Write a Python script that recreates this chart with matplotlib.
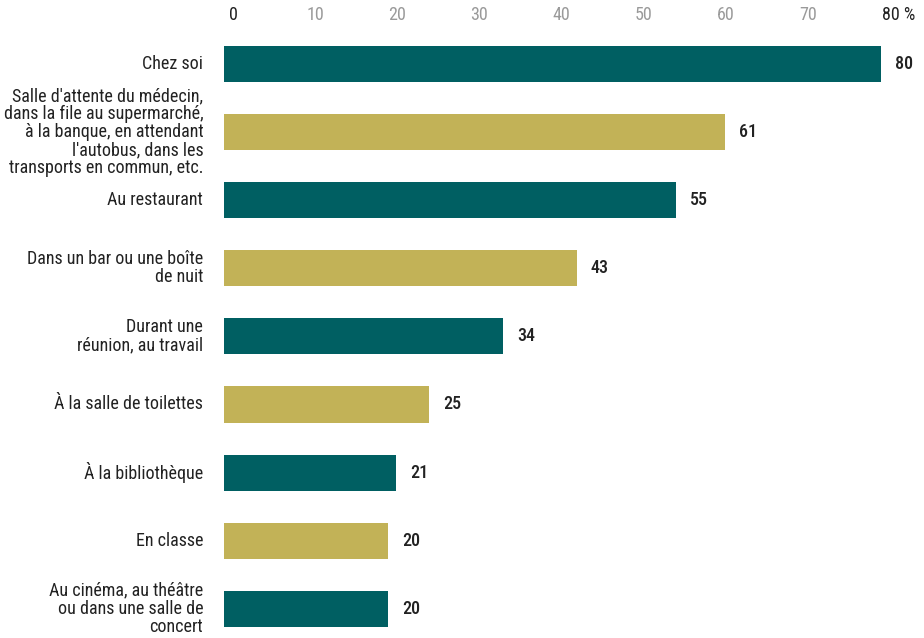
import matplotlib
matplotlib.use("Agg")
import matplotlib.pyplot as plt
import matplotlib.transforms as mtrans

plt.rcParams['font.family'] = ['Roboto Condensed', 'DejaVu Sans']

categories = [
    "Chez soi",
    "Salle d'attente du médecin,\ndans la file au supermarché,\nà la banque, en attendant\nl'autobus, dans les\ntransports en commun, etc.",
    "Au restaurant",
    "Dans un bar ou une boîte\nde nuit",
    "Durant une\nréunion, au travail",
    "À la salle de toilettes",
    "À la bibliothèque",
    "En classe",
    "Au cinéma, au théâtre\nou dans une salle de\nconcert",
]
values = [80, 61, 55, 43, 34, 25, 21, 20, 20]
tick_values = [0, 10, 20, 30, 40, 50, 60, 70, 80]
tick_labels = ["0", "10", "20", "30", "40", "50", "60", "70", "80 %"]

TEAL = "#005F62"
GOLD = "#C2B257"
colors = [TEAL if i % 2 == 0 else GOLD for i in range(len(values))]

fig = plt.figure(figsize=(9.24, 6.38), dpi=100)
ax = fig.add_axes([224 / 924, 0, 1 - 224 / 924, (638 - 30) / 638])

y = list(range(len(values)))
ax.barh(y, values, height=0.53, color=colors, edgecolor='none')
ax.set_xlim(0, 700 / 8.21)
ax.set_ylim(8.43, -0.5)

for s in ax.spines.values():
    s.set_visible(False)

ax.xaxis.tick_top()
ax.set_xticks(tick_values)
ax.set_xticklabels(tick_labels)
ax.tick_params(axis='x', length=0, pad=4, labelsize=13)
off_c = mtrans.ScaledTranslation(9 / 100, 0, fig.dpi_scale_trans)
off_l = mtrans.ScaledTranslation(1 / 100, 0, fig.dpi_scale_trans)
for lab, v in zip(ax.get_xticklabels(), tick_values):
    lab.set_color('#222222' if v in (0, 80) else '#9a9a9a')
    if v == 80:
        lab.set_ha('left')
        lab.set_transform(lab.get_transform() + off_l)
    else:
        lab.set_transform(lab.get_transform() + off_c)

ax.set_yticks(y)
ax.set_yticklabels(categories, fontsize=13, color='#222222', linespacing=1.0,
                   ha='right', va='center')
ax.tick_params(axis='y', length=0, pad=15)

for yi, v in zip(y, values):
    ax.annotate(str(v), xy=(v, yi), xytext=(10, 0), textcoords='offset points',
                ha='left', va='center', fontsize=13, color='#222222',
                fontweight='medium')

fig.savefig("out.png", dpi=100)
